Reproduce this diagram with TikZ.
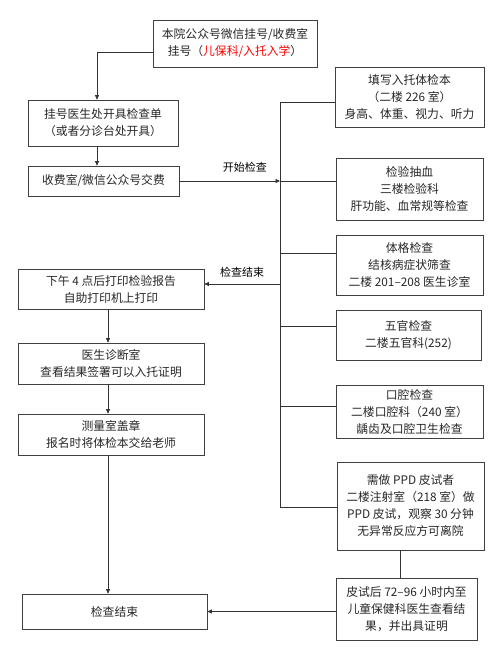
\documentclass[tikz,border=0pt]{standalone}
\usepackage{fontspec}
\setmainfont{Noto Sans CJK SC}
\usepackage{tikz}
\usetikzlibrary{arrows.meta,positioning}
\tikzset{
  stepbox/.style={ draw=black!75, line width=0.7pt, align=center, inner sep=2pt,
    font=\fontsize{11.8}{17}\selectfont, text=black!85 }
}
\tikzset{
  link/.style={ draw=black!80, line width=0.7pt }
}
\tikzset{
  arr/.style={ link, -{Triangle[length=4.5pt,width=4pt]} }
}

\begin{document}
\begin{tikzpicture}[x=1pt, y=-1pt]
        \useasboundingbox (0,0) rectangle (500,666);
        % left column
        \node[stepbox, minimum width=164pt, minimum height=47pt] (reg0) at (235, 43.5)
          {本院公众号微信挂号/收费室\\挂号（\textcolor{red}{儿保科/入托入学}）};
        \node[stepbox, minimum width=150pt, minimum height=46pt] (order) at (103, 123)
          {挂号医生处开具检查单\\（或者分诊台处开具）};
        \node[stepbox, minimum width=151pt, minimum height=30pt] (pay) at (103.5, 181)
          {收费室/微信公众号交费};
        \node[stepbox, minimum width=186pt, minimum height=40pt] (print) at (111, 289)
          {下午 4 点后打印检验报告\\自助打印机上打印};
        \node[stepbox, minimum width=186pt, minimum height=41pt] (doctor) at (111, 363.5)
          {医生诊断室\\查看结果签署可以入托证明};
        \node[stepbox, minimum width=186pt, minimum height=41pt] (stamp) at (111, 434.5)
          {测量室盖章\\报名时将体检本交给老师};
        \node[stepbox, minimum width=185pt, minimum height=35pt] (done) at (114.5, 611.5)
          {检查结束};
        % right column
        \node[stepbox, minimum width=149pt, minimum height=60pt] (form) at (409.5, 97)
          {填写入托体检本\\（二楼 226 室）\\身高、体重、视力、听力};
        \node[stepbox, minimum width=147pt, minimum height=62pt] (blood) at (409.5, 189)
          {检验抽血\\三楼检验科\\肝功能、血常规等检查};
        \node[stepbox, minimum width=147pt, minimum height=60pt] (body) at (409.5, 265)
          {体格检查\\结核病症状筛查\\二楼 201–208 医生诊室};
        \node[stepbox, minimum width=145pt, minimum height=50pt] (ent) at (408.5, 335)
          {五官检查\\二楼五官科(252)};
        \node[stepbox, minimum width=147pt, minimum height=53pt] (dental) at (409.5, 411.5)
          {口腔检查\\二楼口腔科（240 室）\\龋齿及口腔卫生检查};
        \node[stepbox, minimum width=147pt, minimum height=88pt] (ppd) at (410.5, 506)
          {需做 PPD 皮试者\\二楼注射室（218 室）做\\PPD 皮试，观察 30 分钟\\无异常反应方可离院};
        \node[stepbox, minimum width=141pt, minimum height=62pt] (ppdres) at (406.5, 609)
          {皮试后 72–96 小时内至\\儿童保健科医生查看结\\果，并出具证明};
        % trunk
        \coordinate (bend) at (97, 52);
        \coordinate (col) at (108, 0);
        \coordinate (h1) at (280, 102);
        \coordinate (h2) at (280, 181);
        \coordinate (h3) at (280, 253);
        \coordinate (h4) at (280, 284);
        \coordinate (h5) at (280, 326);
        \coordinate (h6) at (280, 406);
        \coordinate (h7) at (280, 507);
        \draw[arr] (reg0.west |- bend) -- (bend) -- (bend |- order.north);
        \draw[arr] (bend |- order.south) -- (bend |- pay.north);
        \draw[arr] (pay.east) -- node[pos=0.65, above=5pt, font=\fontsize{11}{13}\selectfont] {开始检查} (h2);
        \draw[link] (h1) -- (h7);
        \draw[link] (h1) -- (h1 -| form.west);
        \draw[link] (h2) -- (h2 -| blood.west);
        \draw[link] (h3) -- (h3 -| body.west);
        \draw[link] (h5) -- (h5 -| ent.west);
        \draw[link] (h6) -- (h6 -| dental.west);
        \draw[link] (h7) -- (h7 -| ppd.west);
        \draw[arr] (h4) -- node[above=3pt, font=\fontsize{11}{13}\selectfont] {检查结束} (h4 -| print.east);
        \draw[arr] (col |- print.south) -- (col |- doctor.north);
        \draw[arr] (col |- doctor.south) -- (col |- stamp.north);
        \draw[arr] (col |- stamp.south) -- (col |- done.north);
        \draw[link] (ppd.south -| 400,0) -- (ppdres.north -| 400,0);
        \draw[arr] (ppdres.west |- done.east) -- (done.east);
      \end{tikzpicture}
\end{document}
